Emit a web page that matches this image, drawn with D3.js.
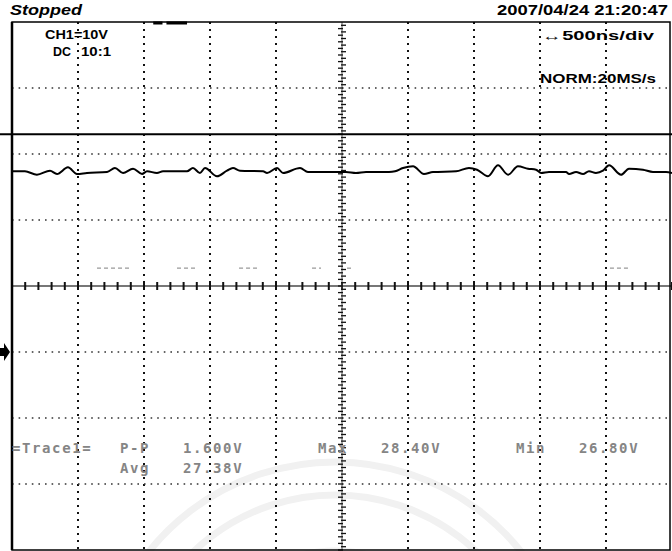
<!DOCTYPE html>
<html>
<head>
<meta charset="utf-8">
<script src="https://cdn.jsdelivr.net/npm/d3@7"></script>
<style>
  body { margin: 0; background: #fff; }
  svg { display: block; }
</style>
</head>
<body>
<script>
const W = 672, H = 551;

// scope settings
const nsPerDiv = 500;
const voltsPerDiv = 10;
const timeRange = [-2500, 2500];   // 10 divisions
const voltRange = [-30, 50];       // 8 divisions, ground 3 divs above bottom
const triggerLevel = 33;

// CH1 trace (ns, V)
const timeNs = [-2500, -2402, -2311, -2212, -2159, -2076, -2008, -1932, -1780, -1720,
  -1659, -1583, -1515, -1477, -1402, -1356, -1174, -1129, -1076, -1038,
  -947, -871, -826, -773, -598, -568, -492, -447, -318, -258,
  -45, 30, 106, 182, 356, 402, 462, 538, 621, 689,
  864, 962, 1023, 1106, 1182, 1258, 1333, 1409, 1470, 1508,
  1568, 1697, 1720, 1773, 1826, 1871, 1924, 1977, 2023, 2114,
  2174, 2280, 2356, 2455, 2500];
const volts = [27.38, 27.38, 26.86, 27.47, 26.97, 27.98, 26.97, 27.12, 27.27, 27.88,
  27.12, 27.77, 26.97, 27.38, 27.12, 27.38, 27.38, 27.88, 27.12, 27.88,
  26.62, 27.47, 27.88, 27.47, 27.38, 27.12, 27.88, 27.12, 27.88, 27.27,
  27.27, 27.27, 27.12, 27.27, 27.27, 27.38, 27.88, 28.14, 26.97, 27.27,
  27.38, 27.88, 27.62, 26.62, 28.29, 26.86, 28.14, 27.77, 27.62, 27.12,
  27.27, 27.27, 26.97, 27.27, 26.97, 27.38, 27.12, 27.47, 28.29, 26.86,
  27.77, 27.62, 27.27, 27.27, 27.12];

// faint leftover dashes on screen (ns ranges at ~12.7 V)
const ghostLevel = 12.7;
const ghostSegs = [[-1856, -1606], [-1250, -1098], [-780, -644], [-227, -159], [38, 91], [2030, 2189]];
// trigger position bars on top edge (ns)
const topBars = [[-1430, -1360], [-1330, -1174]];

// measurement readout
const readLabels = ["=Trace1=", "P-P", "1.600V", "Max", "28.40V", "Min", "26.80V"];
const readLabels2 = ["Avg", "27.38V"];

const svg = d3.select("body").append("svg")
  .attr("width", W)
  .attr("height", H);

const x = d3.scaleLinear().domain(timeRange).range([12, 672]);
const y = d3.scaleLinear().domain(voltRange).range([550, 22]);

// watermark
const wm = svg.append("g").attr("fill", "none").attr("stroke", "#f1f1f1");
[205, 238].forEach(r => {
  wm.append("path")
    .attr("d", d3.arc()({innerRadius: r, outerRadius: r, startAngle: -1.3, endAngle: 1.3}))
    .attr("transform", "translate(335,700)")
    .attr("stroke-width", 7);
});
wm.append("path")
  .attr("d", d3.arc()({innerRadius: 150, outerRadius: 150, startAngle: -0.9, endAngle: 0.9}))
  .attr("transform", "translate(335,700)")
  .attr("stroke-width", 5);

// grid
const xGrid = d3.range(timeRange[0] + nsPerDiv, timeRange[1], nsPerDiv).filter(t => t !== 0);
const yGrid = d3.range(voltRange[0] + voltsPerDiv, voltRange[1], voltsPerDiv).filter(v => v !== 10);

svg.append("g").selectAll("line").data(xGrid).join("line")
  .attr("x1", d => x(d)).attr("x2", d => x(d))
  .attr("y1", y(voltRange[1])).attr("y2", y(voltRange[0]))
  .attr("stroke", "#111").attr("stroke-width", 2)
  .attr("stroke-dasharray", "2,5");

svg.append("g").selectAll("line").data(yGrid).join("line")
  .attr("x1", x(timeRange[0])).attr("x2", x(timeRange[1]))
  .attr("y1", d => y(d)).attr("y2", d => y(d))
  .attr("stroke", "#333").attr("stroke-width", 1.6)
  .attr("stroke-dasharray", "1.6,5");

// centre horizontal axis with minor ticks
const yMid = y(10);
svg.append("line")
  .attr("x1", x(timeRange[0])).attr("x2", x(timeRange[1]))
  .attr("y1", yMid).attr("y2", yMid)
  .attr("stroke", "#777").attr("stroke-width", 2);
svg.append("g").selectAll("line").data(d3.range(timeRange[0], timeRange[1] + 1, 100)).join("line")
  .attr("x1", d => x(d)).attr("x2", d => x(d))
  .attr("y1", yMid - 4).attr("y2", yMid + 4)
  .attr("stroke", "#111").attr("stroke-width", 2);

// centre vertical axis with dense ticks
const xMid = x(0);
svg.append("line")
  .attr("x1", xMid).attr("x2", xMid)
  .attr("y1", y(voltRange[1])).attr("y2", y(voltRange[0]))
  .attr("stroke", "#555").attr("stroke-width", 1);
svg.append("g").selectAll("line").data(d3.range(voltRange[0], voltRange[1], 0.5)).join("line")
  .attr("x1", (d, i) => xMid - (i % 2 ? 1 : 4))
  .attr("x2", (d, i) => xMid + (i % 2 ? 4 : 1))
  .attr("y1", d => y(d)).attr("y2", d => y(d))
  .attr("stroke", "#111").attr("stroke-width", 1.3);

// ghost dashes
svg.append("g").selectAll("line").data(ghostSegs).join("line")
  .attr("x1", d => x(d[0])).attr("x2", d => x(d[1]))
  .attr("y1", y(ghostLevel)).attr("y2", y(ghostLevel))
  .attr("stroke", "#999").attr("stroke-width", 1.3)
  .attr("stroke-dasharray", "4,3");

// frame
svg.append("rect")
  .attr("x", x(timeRange[0])).attr("y", y(voltRange[1]))
  .attr("width", 670 - x(timeRange[0])).attr("height", y(voltRange[0]) - y(voltRange[1]))
  .attr("fill", "none").attr("stroke", "#000").attr("stroke-width", 1.5);
svg.append("line")
  .attr("x1", x(timeRange[0])).attr("x2", x(timeRange[0]))
  .attr("y1", y(voltRange[1])).attr("y2", y(voltRange[0]))
  .attr("stroke", "#000").attr("stroke-width", 2.5);

svg.append("g").selectAll("line").data(topBars).join("line")
  .attr("x1", d => x(d[0])).attr("x2", d => x(d[1]))
  .attr("y1", y(voltRange[1]) + 1).attr("y2", y(voltRange[1]) + 1)
  .attr("stroke", "#000").attr("stroke-width", 3);

// trigger level line
svg.append("line")
  .attr("x1", 0).attr("x2", W)
  .attr("y1", y(triggerLevel)).attr("y2", y(triggerLevel))
  .attr("stroke", "#000").attr("stroke-width", 2);

// ground marker
const g0 = y(0);
svg.append("path")
  .attr("d", `M0,${g0 - 4}H4V${g0 - 9}L10,${g0}L4,${g0 + 9}V${g0 + 4}H0Z`)
  .attr("fill", "#000");

// trace
const trace = timeNs.map((t, i) => [t, volts[i]]);
svg.append("path")
  .datum(trace)
  .attr("d", d3.line().x(d => x(d[0])).y(d => y(d[1])).curve(d3.curveMonotoneX))
  .attr("fill", "none")
  .attr("stroke", "#000")
  .attr("stroke-width", 2)
  .attr("stroke-linejoin", "round");

// header texts
const txt = (s, px, py, len, opts = {}) => svg.append("text")
  .attr("x", px).attr("y", py)
  .attr("textLength", len).attr("lengthAdjust", "spacingAndGlyphs")
  .style("font-family", "'Liberation Sans', Arial, sans-serif")
  .style("font-weight", "bold")
  .style("font-size", (opts.size || 12) + "px")
  .style("font-style", opts.italic ? "italic" : "normal")
  .attr("fill", "#000")
  .text(s);

txt("Stopped", 10, 15, 72, {size: 15, italic: true});
txt("2007/04/24 21:20:47", 497, 15, 171, {size: 14});
txt("CH1=10V", 45, 39, 63, {size: 12});
txt("DC", 53, 56, 18, {size: 12});
txt("10:1", 81, 56, 30, {size: 12});
txt("\u2194500ns/div", 542, 40, 112, {size: 12});
txt("NORM:20MS/s", 540, 83, 116, {size: 12});

// readout (gray, monospace)
const readX = [12, 120, 183, 318, 381, 516, 579];
const readX2 = [120, 183];
const ro = svg.append("g")
  .style("font-family", "'DejaVu Sans Mono', monospace")
  .style("font-weight", "bold")
  .style("font-size", "14px")
  .style("letter-spacing", "1.6px")
  .attr("fill", "#858585");
ro.selectAll("text.r1").data(readLabels).join("text")
  .attr("class", "r1")
  .attr("x", (d, i) => readX[i]).attr("y", 453)
  .text(d => d);
ro.selectAll("text.r2").data(readLabels2).join("text")
  .attr("class", "r2")
  .attr("x", (d, i) => readX2[i]).attr("y", 473)
  .text(d => d);
</script>
</body>
</html>
